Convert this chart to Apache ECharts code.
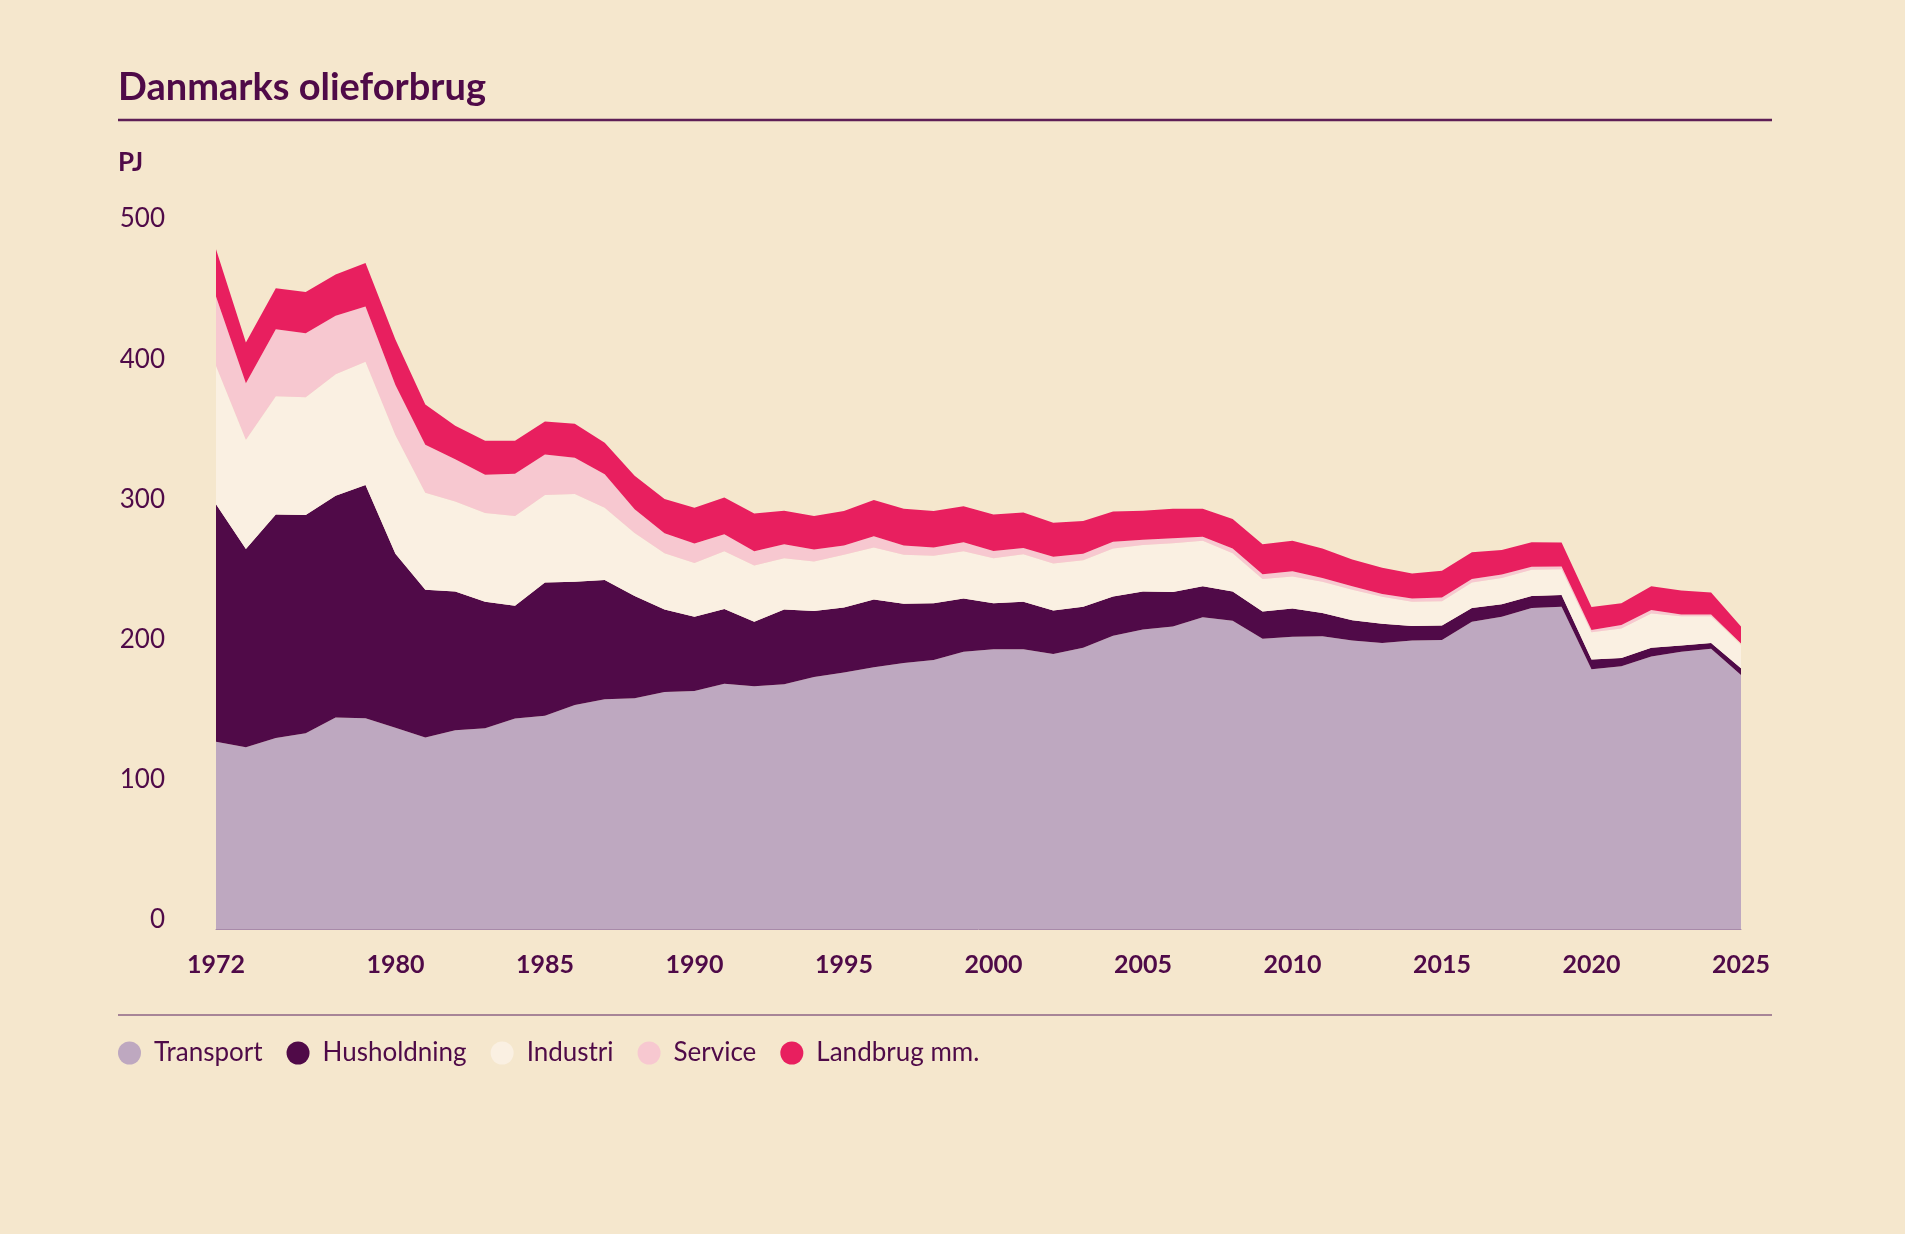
<!DOCTYPE html>
<html>
<head>
<meta charset="utf-8">
<title>Danmarks olieforbrug</title>
<script src="https://cdn.jsdelivr.net/npm/echarts@6/dist/echarts.min.js"></script>
<style>
  html, body { margin: 0; padding: 0; background: #f5e7cd; }
  #chart { width: 1905px; height: 1234px; }
</style>
</head>
<body>
<div id="chart"></div>
<script>
// år (første punkt er 1972, derefter årlig fra 1975)
const years = [
  '1972', '1975', '1976', '1977', '1978', '1979', '1980', '1981', '1982', '1983',
  '1984', '1985', '1986', '1987', '1988', '1989', '1990', '1991', '1992', '1993',
  '1994', '1995', '1996', '1997', '1998', '1999', '2000', '2001', '2002', '2003',
  '2004', '2005', '2006', '2007', '2008', '2009', '2010', '2011', '2012', '2013',
  '2014', '2015', '2016', '2017', '2018', '2019', '2020', '2021', '2022', '2023',
  '2024', '2025'
];
const shownYears = ['1972', '1980', '1985', '1990', '1995', '2000', '2005', '2010', '2015', '2020', '2025'];
const yTicks = [0, 100, 200, 300, 400, 500];

// PJ pr. sektor
const transport = [
  133.5, 129.7, 136.2, 139.7, 150.8, 150.4, 143.5, 136.6, 141.8, 143.2,
  150.1, 152.1, 159.8, 163.9, 164.6, 169.1, 169.8, 175.0, 173.2, 174.6,
  179.8, 182.9, 186.7, 189.8, 191.9, 197.8, 199.5, 199.5, 196.1, 200.6,
  209.2, 213.7, 215.8, 222.3, 219.9, 207.1, 208.5, 208.8, 205.7, 204.0,
  205.7, 206.1, 219.2, 222.7, 228.9, 229.9, 185.3, 187.4, 194.3, 197.8,
  199.9, 181.2
];
const husholdning = [
  169.4, 141.4, 159.4, 155.6, 158.3, 166.3, 124.1, 105.4, 98.9, 90.2,
  80.5, 95.1, 87.8, 85.1, 73.0, 58.8, 52.9, 53.2, 46.0, 53.3,
  47.0, 46.4, 48.4, 42.2, 40.5, 38.0, 32.9, 33.9, 31.1, 29.3,
  28.0, 27.0, 24.5, 22.2, 20.8, 19.4, 20.1, 16.6, 14.6, 13.8,
  10.4, 10.4, 9.7, 9.0, 8.7, 8.3, 7.0, 5.9, 6.3, 4.5,
  4.1, 4.8
];
const industri = [
  98.9, 77.8, 84.4, 84.0, 86.5, 87.9, 84.8, 69.2, 64.3, 63.3,
  64.0, 62.3, 62.6, 51.5, 44.9, 40.1, 38.4, 41.2, 40.1, 36.6,
  35.3, 37.6, 37.0, 34.9, 33.9, 33.6, 32.1, 33.9, 33.5, 33.2,
  34.2, 33.2, 34.9, 32.5, 27.3, 23.2, 22.8, 22.2, 21.7, 19.1,
  17.3, 17.2, 18.3, 18.6, 18.6, 18.4, 19.3, 21.1, 24.5, 20.7,
  19.0, 16.3
];
const service = [
  49.4, 40.4, 47.7, 45.7, 41.8, 39.4, 35.6, 34.2, 30.1, 27.3,
  30.1, 29.0, 25.9, 23.8, 16.9, 14.2, 13.8, 12.1, 10.1, 10.0,
  8.6, 6.6, 8.0, 6.6, 5.8, 6.5, 5.2, 4.5, 4.9, 4.5,
  4.9, 3.8, 3.5, 2.7, 3.4, 3.4, 3.8, 2.7, 2.5, 2.0,
  2.4, 2.8, 2.5, 2.5, 2.1, 2.0, 1.7, 2.4, 2.4, 1.4,
  1.4, 1.4
];
const landbrug = [
  33.6, 29.1, 29.4, 29.4, 29.4, 31.1, 32.5, 28.7, 23.8, 24.2,
  23.5, 23.5, 24.2, 22.5, 23.9, 24.5, 25.6, 26.2, 26.9, 23.9,
  23.9, 24.6, 25.9, 26.3, 26.0, 25.6, 25.9, 25.2, 24.2, 23.5,
  21.4, 20.7, 21.1, 20.1, 21.1, 21.4, 21.8, 21.1, 19.0, 18.7,
  17.7, 19.0, 19.0, 17.6, 17.6, 17.0, 16.3, 15.6, 17.0, 17.0,
  15.6, 12.1
];

const textColor = '#4f0a48';
const font = 'Lato, "Noto Sans", sans-serif';

function areaSeries(name, data, color) {
  return {
    name: name,
    type: 'line',
    stack: 'total',
    data: data,
    symbol: 'none',
    lineStyle: { width: 0 },
    areaStyle: { color: color, opacity: 1 },
    itemStyle: { color: color },
    emphasis: { disabled: true }
  };
}

const chart = echarts.init(document.getElementById('chart'));
chart.setOption({
  backgroundColor: '#f5e7cd',
  animation: false,
  textStyle: { fontFamily: font, color: textColor },
  title: {
    text: 'Danmarks olieforbrug',
    left: 113,
    top: 60,
    textStyle: { fontFamily: font, fontSize: 38, fontWeight: 'bold', color: textColor, lineHeight: 46 }
  },
  legend: {
    left: 118,
    top: 1040,
    padding: 0,
    icon: 'circle',
    itemWidth: 23,
    itemHeight: 23,
    itemGap: 24,
    selectedMode: false,
    textStyle: { fontFamily: font, fontSize: 26, color: textColor, padding: [0, 0, 0, 8] },
    data: ['Transport', 'Husholdning', 'Industri', 'Service', 'Landbrug mm.']
  },
  grid: { left: 216, right: 164, top: 228, bottom: 305 },
  xAxis: {
    type: 'category',
    data: years,
    boundaryGap: false,
    axisLine: { show: true, lineStyle: { color: '#a88aa9', width: 1 } },
    axisTick: { show: false },
    splitLine: { show: false },
    axisLabel: {
      interval: (idx, val) => shownYears.includes(val),
      margin: 23,
      fontFamily: font,
      fontSize: 25,
      fontWeight: 'bold',
      color: textColor
    }
  },
  yAxis: {
    type: 'value',
    min: yTicks[0],
    max: yTicks[yTicks.length - 1],
    interval: 100,
    axisLine: { show: false },
    axisTick: { show: false },
    splitLine: { show: false },
    axisLabel: {
      margin: 51,
      fontFamily: font,
      fontSize: 26,
      color: textColor,
      verticalAlign: 'bottom',
      lineHeight: 18
    }
  },
  graphic: [
    { type: 'line', shape: { x1: 118, y1: 120, x2: 1772, y2: 120 }, style: { stroke: '#5e1f56', lineWidth: 2.5 } },
    { type: 'line', shape: { x1: 118, y1: 1015, x2: 1772, y2: 1015 }, style: { stroke: '#8d6585', lineWidth: 1.5 } },
    {
      type: 'text', left: 118, top: 150,
      style: { text: 'PJ', font: 'bold 26px ' + font, fill: textColor }
    }
  ],
  series: [
    areaSeries('Transport', transport, '#bea8c0'),
    areaSeries('Husholdning', husholdning, '#500a48'),
    areaSeries('Industri', industri, '#faf0e2'),
    areaSeries('Service', service, '#f7c8d0'),
    areaSeries('Landbrug mm.', landbrug, '#e81f5f')
  ]
});
</script>
</body>
</html>
